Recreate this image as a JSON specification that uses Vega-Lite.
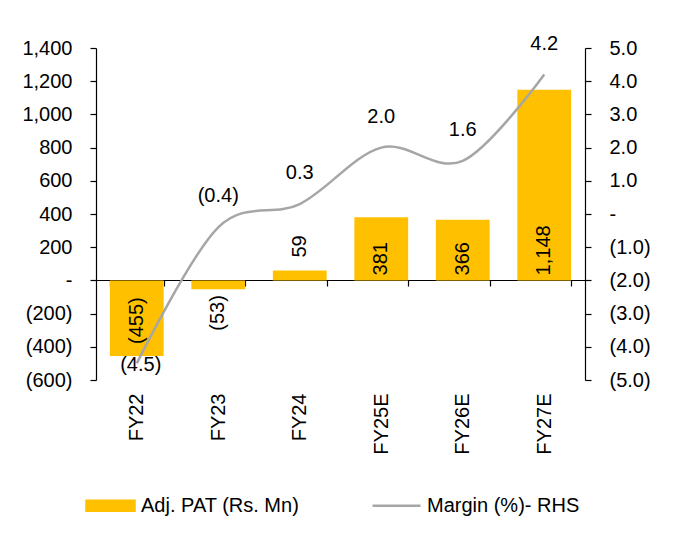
{
  "$schema": "https://vega.github.io/schema/vega-lite/v6.json",
  "width": 489,
  "height": 332,
  "autosize": {"type": "none"},
  "padding": {"left": 96, "top": 48, "right": 100, "bottom": 153},
  "background": "white",
  "data": {
    "values": [
      {"year": "FY22", "pat": -455, "margin": -4.5},
      {"year": "FY23", "pat": -53, "margin": -0.4},
      {"year": "FY24", "pat": 59, "margin": 0.3},
      {"year": "FY25E", "pat": 381, "margin": 2.0},
      {"year": "FY26E", "pat": 366, "margin": 1.6},
      {"year": "FY27E", "pat": 1148, "margin": 4.2}
    ]
  },
  "config": {
    "view": {"stroke": null},
    "font": "Liberation Sans",
    "axis": {
      "domainColor": "#000000",
      "tickColor": "#000000",
      "labelColor": "#000000",
      "labelFont": "Liberation Sans",
      "labelFontSize": 20,
      "labelOverlap": false,
      "grid": false,
      "ticks": true,
      "tickSize": 6,
      "tickOpacity": 1,
      "title": null,
      "domainWidth": 1.2,
      "tickWidth": 1.2
    },
    "text": {"font": "Liberation Sans", "fontSize": 20, "color": "#000000"},
    "legend": {
      "orient": "none",
      "legendX": -11,
      "legendY": 432,
      "direction": "horizontal",
      "columnPadding": 67,
      "labelOffset": 5,
      "labelFontSize": 20,
      "labelFont": "Liberation Sans",
      "labelColor": "#000000",
      "symbolSize": 2304,
      "padding": 0
    }
  },
  "encoding": {
    "x": {
      "field": "year",
      "type": "nominal",
      "sort": null,
      "scale": {"paddingInner": 0.34, "paddingOuter": 0.17},
      "axis": {
        "orient": "bottom",
        "offset": -100,
        "labelAngle": -90,
        "labelPadding": 107,
        "tickBand": "extent",
        "ticks": true,
        "tickSize": 6,
        "tickColor": "#000000"
      }
    }
  },
  "layer": [
    {
      "encoding": {
        "y": {
          "field": "pat",
          "type": "quantitative",
          "scale": {"domain": [-600, 1400], "nice": false, "zero": false},
          "axis": {
            "orient": "left",
            "values": [-600, -400, -200, 0, 200, 400, 600, 800, 1000, 1200, 1400],
            "labelPadding": 18,
            "labelOverlap": false,
            "ticks": true,
            "tickSize": 6,
            "tickColor": "#000000",
            "labelExpr": "datum.value === 0 ? '-' : format(datum.value, '(,.0f')"
          }
        }
      },
      "layer": [
        {
          "mark": {"type": "bar", "color": "#FFC000"},
          "encoding": {
            "color": {
              "datum": "Adj. PAT (Rs. Mn)",
              "type": "nominal",
              "scale": {"domain": ["Adj. PAT (Rs. Mn)", "Margin (%)- RHS"], "range": ["#FFC000", "#A6A6A6"]},
              "legend": {
                "title": null,
                "encode": {
                  "symbols": {
                    "update": {
                      "shape": {"signal": "datum.value === 'Margin (%)- RHS' ? 'M-1,0H1' : 'M-1,-0.21H1V0.21H-1Z'"},
                      "fill": {"signal": "datum.value === 'Margin (%)- RHS' ? 'transparent' : '#FFC000'"},
                      "stroke": {"signal": "datum.value === 'Margin (%)- RHS' ? '#A6A6A6' : 'transparent'"},
                      "strokeWidth": {"value": 2.5},
                      "opacity": {"value": 1},
                      "size": {"value": 2304}
                    }
                  }
                }
              }
            }
          }
        },
        {
          "transform": [{"filter": "datum.pat > 200"}],
          "mark": {"type": "text", "angle": 270, "align": "left", "baseline": "middle", "dx": 5},
          "encoding": {
            "y": {
              "datum": 0,
              "type": "quantitative",
              "scale": {"domain": [-600, 1400], "nice": false, "zero": false},
              "axis": {
                "orient": "left",
                "values": [-600, -400, -200, 0, 200, 400, 600, 800, 1000, 1200, 1400],
                "labelPadding": 18,
                "labelOverlap": false,
                "ticks": true,
                "tickSize": 6,
                "tickColor": "#000000",
                "labelExpr": "datum.value === 0 ? '-' : format(datum.value, '(,.0f')"
              }
            },
            "text": {"field": "pat", "type": "quantitative", "format": "(,.0f"}
          }
        },
        {
          "transform": [{"filter": "datum.pat < -200"}],
          "mark": {"type": "text", "angle": 270, "align": "left", "baseline": "middle", "dx": 12},
          "encoding": {
            "text": {"field": "pat", "type": "quantitative", "format": "(,.0f"}
          }
        },
        {
          "transform": [{"filter": "datum.pat > 0 && datum.pat <= 200"}],
          "mark": {"type": "text", "angle": 270, "align": "left", "baseline": "middle", "dx": 13},
          "encoding": {
            "text": {"field": "pat", "type": "quantitative", "format": "(,.0f"}
          }
        },
        {
          "transform": [{"filter": "datum.pat < 0 && datum.pat >= -200"}],
          "mark": {"type": "text", "angle": 270, "align": "right", "baseline": "middle", "dx": -6},
          "encoding": {
            "text": {"field": "pat", "type": "quantitative", "format": "(,.0f"}
          }
        }
      ]
    },
    {
      "encoding": {
        "y": {
          "field": "margin",
          "type": "quantitative",
          "scale": {"domain": [-5, 5], "nice": false, "zero": false},
          "axis": {
            "orient": "right",
            "values": [-5, -4, -3, -2, -1, 0, 1, 2, 3, 4, 5],
            "labelPadding": 18,
            "labelOverlap": false,
            "ticks": true,
            "tickSize": 6,
            "tickColor": "#000000",
            "labelExpr": "datum.value === 0 ? '-' : format(datum.value, '(.1f')"
          }
        }
      },
      "layer": [
        {
          "mark": {"type": "line", "interpolate": "cardinal", "strokeWidth": 2.5, "color": "#A6A6A6"},
          "encoding": {
            "color": {
              "datum": "Margin (%)- RHS",
              "type": "nominal",
              "scale": {"domain": ["Adj. PAT (Rs. Mn)", "Margin (%)- RHS"], "range": ["#FFC000", "#A6A6A6"]},
              "legend": {
                "title": null,
                "encode": {
                  "symbols": {
                    "update": {
                      "shape": {"signal": "datum.value === 'Margin (%)- RHS' ? 'M-1,0H1' : 'M-1,-0.21H1V0.21H-1Z'"},
                      "fill": {"signal": "datum.value === 'Margin (%)- RHS' ? 'transparent' : '#FFC000'"},
                      "stroke": {"signal": "datum.value === 'Margin (%)- RHS' ? '#A6A6A6' : 'transparent'"},
                      "strokeWidth": {"value": 2.5},
                      "opacity": {"value": 1},
                      "size": {"value": 2304}
                    }
                  }
                }
              }
            }
          }
        },
        {
          "transform": [{"filter": "datum.margin > -2"}],
          "mark": {"type": "text", "align": "center", "baseline": "middle", "dy": -31},
          "encoding": {
            "text": {"field": "margin", "type": "quantitative", "format": "(.1f"}
          }
        },
        {
          "transform": [{"filter": "datum.margin <= -2"}],
          "mark": {"type": "text", "align": "center", "baseline": "middle", "dy": 2, "dx": 4},
          "encoding": {
            "text": {"field": "margin", "type": "quantitative", "format": "(.1f"}
          }
        }
      ]
    }
  ],
  "resolve": {"scale": {"y": "independent"}}
}
